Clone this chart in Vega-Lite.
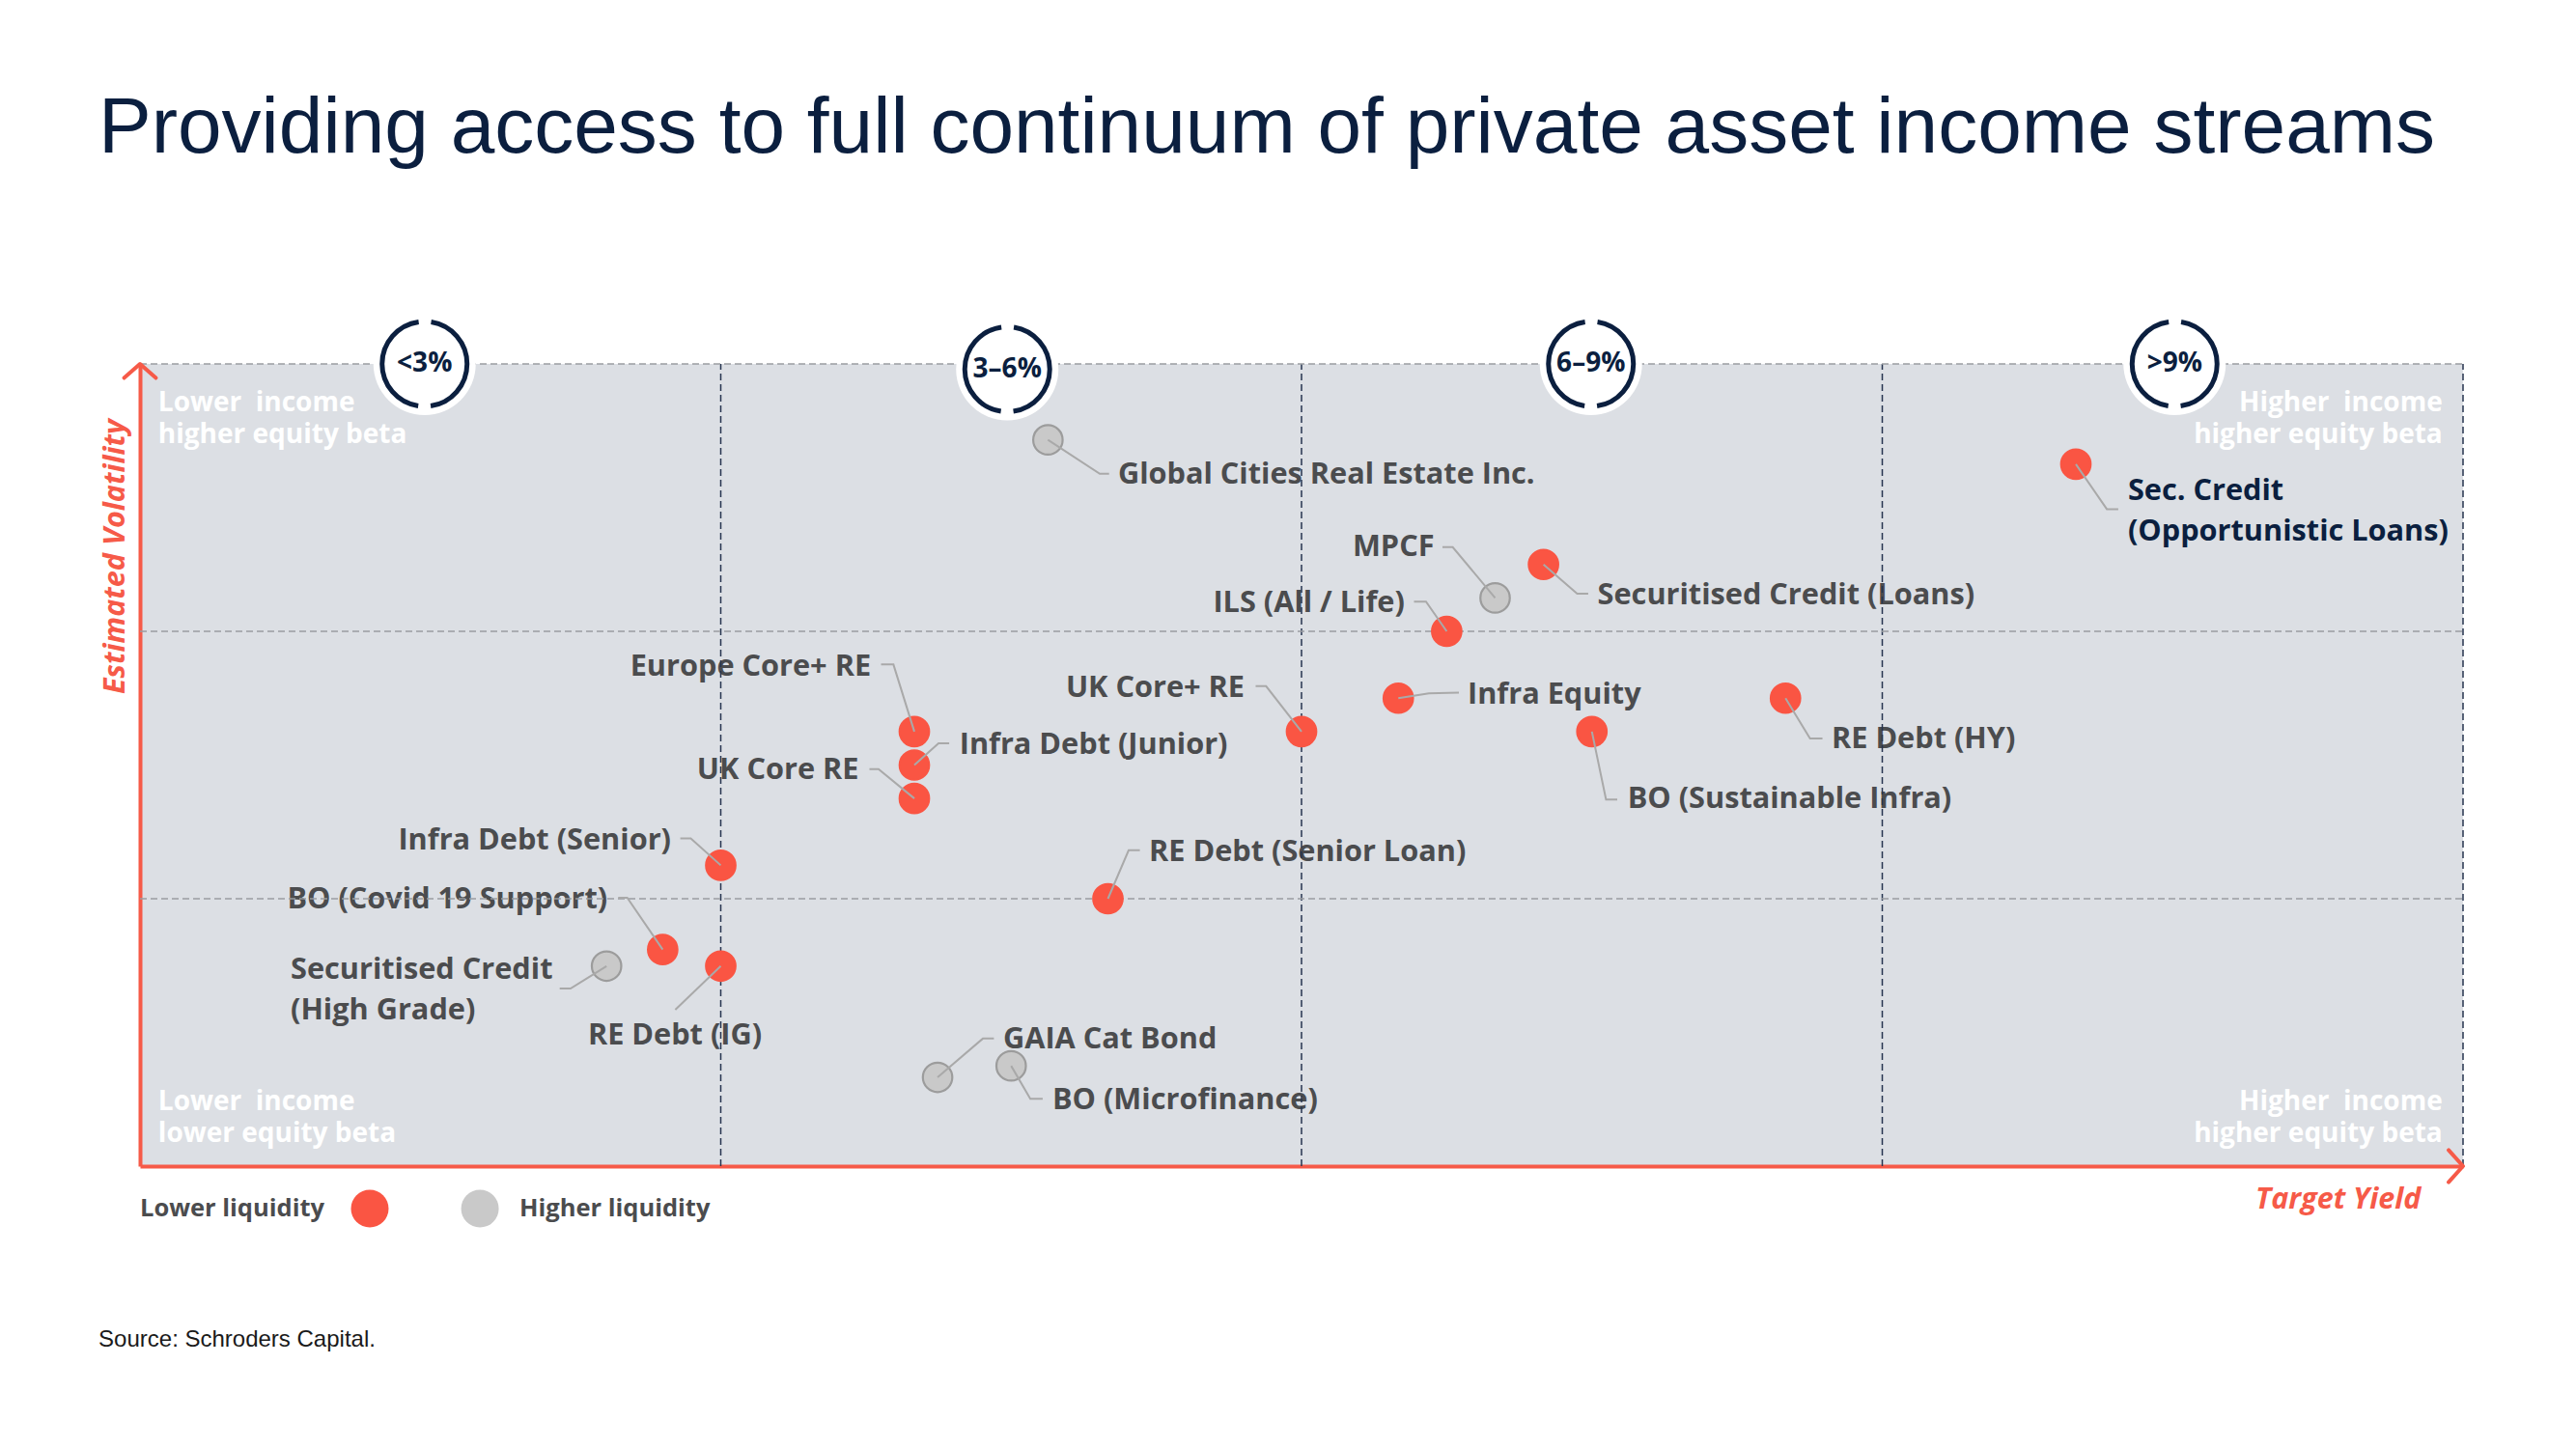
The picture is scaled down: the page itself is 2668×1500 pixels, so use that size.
{
  "$schema": "https://vega.github.io/schema/vega-lite/v6.json",
  "width": 2406,
  "height": 831,
  "autosize": {"type": "none"},
  "padding": {"left": 145, "top": 377, "right": 117, "bottom": 292},
  "background": "white",
  "title": {
    "text": "Providing access to full continuum of private asset income streams",
    "anchor": "start",
    "frame": "group",
    "font": "Liberation Sans",
    "fontSize": 82,
    "fontWeight": 400,
    "color": "#0b1f3f",
    "baseline": "alphabetic",
    "offset": 83,
    "dx": -43
  },
  "config": {
    "view": {"fill": "#dcdfe4", "stroke": null},
    "font": "Open Sans"
  },
  "datasets": {
    "points": [
      {"name": "Global Cities Real Estate Inc.", "liquidity": "Higher liquidity", "x": 4.69, "y": 2.716},
      {"name": "Sec. Credit (Opportunistic Loans)", "liquidity": "Lower liquidity", "x": 10.0, "y": 2.625},
      {"name": "Securitised Credit (Loans)", "liquidity": "Lower liquidity", "x": 7.25, "y": 2.25},
      {"name": "MPCF", "liquidity": "Higher liquidity", "x": 7.0, "y": 2.125},
      {"name": "ILS (All / Life)", "liquidity": "Lower liquidity", "x": 6.75, "y": 2.0},
      {"name": "Infra Equity", "liquidity": "Lower liquidity", "x": 6.5, "y": 1.75},
      {"name": "UK Core+ RE", "liquidity": "Lower liquidity", "x": 6.0, "y": 1.625},
      {"name": "BO (Sustainable Infra)", "liquidity": "Lower liquidity", "x": 7.5, "y": 1.625},
      {"name": "RE Debt (HY)", "liquidity": "Lower liquidity", "x": 8.5, "y": 1.75},
      {"name": "Europe Core+ RE", "liquidity": "Lower liquidity", "x": 4.0, "y": 1.625},
      {"name": "Infra Debt (Junior)", "liquidity": "Lower liquidity", "x": 4.0, "y": 1.5},
      {"name": "UK Core RE", "liquidity": "Lower liquidity", "x": 4.0, "y": 1.375},
      {"name": "Infra Debt (Senior)", "liquidity": "Lower liquidity", "x": 3.0, "y": 1.125},
      {"name": "RE Debt (Senior Loan)", "liquidity": "Lower liquidity", "x": 5.0, "y": 1.0},
      {"name": "BO (Covid 19 Support)", "liquidity": "Lower liquidity", "x": 2.7, "y": 0.81},
      {"name": "RE Debt (IG)", "liquidity": "Lower liquidity", "x": 3.0, "y": 0.748},
      {"name": "Securitised Credit (High Grade)", "liquidity": "Higher liquidity", "x": 2.41, "y": 0.748},
      {"name": "GAIA Cat Bond", "liquidity": "Higher liquidity", "x": 4.12, "y": 0.332},
      {"name": "BO (Microfinance)", "liquidity": "Higher liquidity", "x": 4.5, "y": 0.375}
    ],
    "labels": [
      {"label": "Global Cities Real Estate Inc.", "side": "right", "highlight": false, "x": 5.052, "y": 2.586},
      {"label": "Sec. Credit\n(Opportunistic Loans)", "side": "right", "highlight": true, "x": 10.269, "y": 2.522},
      {"label": "Securitised Credit (Loans)", "side": "right", "highlight": false, "x": 7.529, "y": 2.135},
      {"label": "MPCF", "side": "left", "highlight": false, "x": 6.686, "y": 2.314},
      {"label": "ILS (All / Life)", "side": "left", "highlight": false, "x": 6.533, "y": 2.105},
      {"label": "Infra Equity", "side": "right", "highlight": false, "x": 6.858, "y": 1.762},
      {"label": "UK Core+ RE", "side": "left", "highlight": false, "x": 5.706, "y": 1.786},
      {"label": "RE Debt (HY)", "side": "right", "highlight": false, "x": 8.738, "y": 1.596},
      {"label": "BO (Sustainable Infra)", "side": "right", "highlight": false, "x": 7.684, "y": 1.371},
      {"label": "Europe Core+ RE", "side": "left", "highlight": false, "x": 3.776, "y": 1.868},
      {"label": "Infra Debt (Junior)", "side": "right", "highlight": false, "x": 4.233, "y": 1.575},
      {"label": "UK Core RE", "side": "left", "highlight": false, "x": 3.713, "y": 1.479},
      {"label": "Infra Debt (Senior)", "side": "left", "highlight": false, "x": 2.743, "y": 1.218},
      {"label": "RE Debt (Senior Loan)", "side": "right", "highlight": false, "x": 5.212, "y": 1.174},
      {"label": "BO (Covid 19 Support)", "side": "left", "highlight": false, "x": 2.415, "y": 0.997},
      {"label": "Securitised Credit\n(High Grade)", "side": "right", "highlight": false, "x": 0.778, "y": 0.733},
      {"label": "RE Debt (IG)", "side": "below", "highlight": false, "x": 2.763, "y": 0.486},
      {"label": "GAIA Cat Bond", "side": "right", "highlight": false, "x": 4.459, "y": 0.474},
      {"label": "BO (Microfinance)", "side": "right", "highlight": false, "x": 4.713, "y": 0.245}
    ],
    "leaders": [
      {"name": "Global Cities", "seq": 1, "x": 4.69, "y": 2.716},
      {"name": "Global Cities", "seq": 2, "x": 4.958, "y": 2.589},
      {"name": "Global Cities", "seq": 3, "x": 5.006, "y": 2.589},
      {"name": "MPCF", "seq": 1, "x": 6.728, "y": 2.315},
      {"name": "MPCF", "seq": 2, "x": 6.781, "y": 2.315},
      {"name": "MPCF", "seq": 3, "x": 7.0, "y": 2.125},
      {"name": "Sec Loans", "seq": 1, "x": 7.25, "y": 2.25},
      {"name": "Sec Loans", "seq": 2, "x": 7.424, "y": 2.141},
      {"name": "Sec Loans", "seq": 3, "x": 7.481, "y": 2.141},
      {"name": "ILS", "seq": 1, "x": 6.581, "y": 2.111},
      {"name": "ILS", "seq": 2, "x": 6.643, "y": 2.111},
      {"name": "ILS", "seq": 3, "x": 6.75, "y": 2.0},
      {"name": "UK Core+", "seq": 1, "x": 5.763, "y": 1.795},
      {"name": "UK Core+", "seq": 2, "x": 5.817, "y": 1.795},
      {"name": "UK Core+", "seq": 3, "x": 6.0, "y": 1.625},
      {"name": "Infra Equity", "seq": 1, "x": 6.5, "y": 1.75},
      {"name": "Infra Equity", "seq": 2, "x": 6.658, "y": 1.768},
      {"name": "Infra Equity", "seq": 3, "x": 6.813, "y": 1.771},
      {"name": "Sec Opp", "seq": 1, "x": 10.0, "y": 2.625},
      {"name": "Sec Opp", "seq": 2, "x": 10.16, "y": 2.457},
      {"name": "Sec Opp", "seq": 3, "x": 10.219, "y": 2.457},
      {"name": "RE HY", "seq": 1, "x": 8.5, "y": 1.75},
      {"name": "RE HY", "seq": 2, "x": 8.627, "y": 1.599},
      {"name": "RE HY", "seq": 3, "x": 8.691, "y": 1.599},
      {"name": "Infra Junior", "seq": 1, "x": 4.0, "y": 1.5},
      {"name": "Infra Junior", "seq": 2, "x": 4.125, "y": 1.581},
      {"name": "Infra Junior", "seq": 3, "x": 4.18, "y": 1.581},
      {"name": "BO Sust", "seq": 1, "x": 7.5, "y": 1.625},
      {"name": "BO Sust", "seq": 2, "x": 7.573, "y": 1.371},
      {"name": "BO Sust", "seq": 3, "x": 7.631, "y": 1.371},
      {"name": "RE Senior", "seq": 1, "x": 5.0, "y": 1.0},
      {"name": "RE Senior", "seq": 2, "x": 5.107, "y": 1.181},
      {"name": "RE Senior", "seq": 3, "x": 5.165, "y": 1.181},
      {"name": "GAIA", "seq": 1, "x": 4.12, "y": 0.332},
      {"name": "GAIA", "seq": 2, "x": 4.354, "y": 0.477},
      {"name": "GAIA", "seq": 3, "x": 4.411, "y": 0.477},
      {"name": "BO Micro", "seq": 1, "x": 4.5, "y": 0.375},
      {"name": "BO Micro", "seq": 2, "x": 4.599, "y": 0.252},
      {"name": "BO Micro", "seq": 3, "x": 4.663, "y": 0.252},
      {"name": "UK Core", "seq": 1, "x": 3.768, "y": 1.485},
      {"name": "UK Core", "seq": 2, "x": 3.815, "y": 1.485},
      {"name": "UK Core", "seq": 3, "x": 4.0, "y": 1.375},
      {"name": "Infra Senior", "seq": 1, "x": 2.791, "y": 1.226},
      {"name": "Infra Senior", "seq": 2, "x": 2.845, "y": 1.226},
      {"name": "Infra Senior", "seq": 3, "x": 3.0, "y": 1.125},
      {"name": "BO Covid", "seq": 1, "x": 2.47, "y": 1.004},
      {"name": "BO Covid", "seq": 2, "x": 2.517, "y": 1.004},
      {"name": "BO Covid", "seq": 3, "x": 2.7, "y": 0.81},
      {"name": "Sec HG", "seq": 1, "x": 2.41, "y": 0.748},
      {"name": "Sec HG", "seq": 2, "x": 2.224, "y": 0.664},
      {"name": "Sec HG", "seq": 3, "x": 2.168, "y": 0.664},
      {"name": "RE IG", "seq": 1, "x": 3.0, "y": 0.748},
      {"name": "RE IG", "seq": 2, "x": 2.765, "y": 0.585},
      {"name": "Europe Core+", "seq": 1, "x": 3.828, "y": 1.876},
      {"name": "Europe Core+", "seq": 2, "x": 3.892, "y": 1.876},
      {"name": "Europe Core+", "seq": 3, "x": 4.0, "y": 1.625}
    ],
    "corners": [
      {"text": "Lower\u00a0 income\nhigher equity beta", "side": "left", "x": 0.094, "y": 2.852},
      {"text": "Higher\u00a0 income\nhigher equity beta", "side": "right", "x": 11.894, "y": 2.852},
      {"text": "Lower\u00a0 income\nlower equity beta", "side": "left", "x": 0.094, "y": 0.239},
      {"text": "Higher\u00a0 income\nhigher equity beta", "side": "right", "x": 11.894, "y": 0.239}
    ],
    "badges": [
      {"band": "<3%", "x": 1.47, "y": 3.0},
      {"band": "3–6%", "x": 4.48, "y": 2.98},
      {"band": "6–9%", "x": 7.495, "y": 3.0},
      {"band": ">9%", "x": 10.51, "y": 3.0}
    ],
    "vlines": [
      {"x": 3, "y": 0, "y2": 3},
      {"x": 6, "y": 0, "y2": 3},
      {"x": 9, "y": 0, "y2": 3},
      {"x": 12, "y": 0, "y2": 3}
    ],
    "hlines": [
      {"y": 1, "x": 0, "x2": 12},
      {"y": 2, "x": 0, "x2": 12},
      {"y": 3, "x": 0, "x2": 12}
    ],
    "legendDots": [
      {"liquidity": "Lower liquidity", "x": 1.187, "y": -0.159},
      {"liquidity": "Higher liquidity", "x": 1.756, "y": -0.159}
    ],
    "legendText": [
      {"text": "Lower liquidity", "x": 0.0, "y": -0.159},
      {"text": "Higher liquidity", "x": 1.96, "y": -0.159}
    ],
    "source": [{"text": "Source: Schroders Capital.", "x": -0.214, "y": -0.65}]
  },
  "encoding": {
    "x": {
      "field": "x", "type": "quantitative",
      "scale": {"domain": [0, 12], "nice": false, "zero": false},
      "axis": {
        "title": "Target Yield", "grid": false, "ticks": false, "labels": false,
        "domainColor": "#f65a48", "domainWidth": 4,
        "titleFont": "Open Sans", "titleFontSize": 30.5, "titleFontStyle": "italic", "titleFontWeight": 700, "titleColor": "#f65a48",
        "titleAlign": "right", "titleX": 2362, "titleY": 34, "titleBaseline": "middle"
      }
    },
    "y": {
      "field": "y", "type": "quantitative",
      "scale": {"domain": [0, 3], "nice": false, "zero": false},
      "axis": {
        "title": "Estimated Volatility", "grid": false, "ticks": false, "labels": false,
        "domainColor": "#f65a48", "domainWidth": 4,
        "titleFont": "Open Sans", "titleFontSize": 30.5, "titleFontStyle": "italic", "titleFontWeight": 700, "titleColor": "#f65a48",
        "titleAngle": 270, "titleAlign": "center", "titleX": -26, "titleY": 199, "titleBaseline": "middle"
      }
    }
  },
  "layer": [
    {
      "data": {"name": "corners"},
      "transform": [{"filter": "datum.side === 'left'"}],
      "mark": {"type": "text", "align": "left", "baseline": "middle", "lineBreak": "\n", "lineHeight": 33, "font": "Open Sans", "fontSize": 28, "fontWeight": 700, "color": "#ffffff"},
      "encoding": {"text": {"field": "text"}}
    },
    {
      "data": {"name": "corners"},
      "transform": [{"filter": "datum.side === 'right'"}],
      "mark": {"type": "text", "align": "right", "baseline": "middle", "lineBreak": "\n", "lineHeight": 33, "font": "Open Sans", "fontSize": 28, "fontWeight": 700, "color": "#ffffff"},
      "encoding": {"text": {"field": "text"}}
    },
    {
      "data": {"name": "labels"},
      "transform": [{"filter": "datum.side === 'right'"}],
      "mark": {"type": "text", "align": "left", "baseline": "middle", "lineBreak": "\n", "lineHeight": 42, "font": "Open Sans", "fontSize": 30.7, "fontWeight": 700},
      "encoding": {
        "text": {"field": "label"},
        "color": {"condition": {"test": "datum.highlight", "value": "#0b1f3f"}, "value": "#4b4c4e"}
      }
    },
    {
      "data": {"name": "labels"},
      "transform": [{"filter": "datum.side === 'left'"}],
      "mark": {"type": "text", "align": "right", "baseline": "middle", "lineBreak": "\n", "lineHeight": 42, "font": "Open Sans", "fontSize": 30.7, "fontWeight": 700, "color": "#4b4c4e"},
      "encoding": {"text": {"field": "label"}}
    },
    {
      "data": {"name": "labels"},
      "transform": [{"filter": "datum.side === 'below'"}],
      "mark": {"type": "text", "align": "center", "baseline": "middle", "font": "Open Sans", "fontSize": 30.7, "fontWeight": 700, "color": "#4b4c4e"},
      "encoding": {"text": {"field": "label"}}
    },
    {
      "data": {"name": "vlines"},
      "mark": {"type": "rule", "color": "#26344f", "strokeWidth": 1.5, "strokeDash": [7, 4]},
      "encoding": {"y2": {"field": "y2"}}
    },
    {
      "data": {"name": "hlines"},
      "mark": {"type": "rule", "color": "#9b9da1", "strokeWidth": 1.6, "strokeDash": [7, 4]},
      "encoding": {"x2": {"field": "x2"}}
    },
    {
      "data": {"name": "points"},
      "mark": {"type": "point", "shape": "circle", "filled": true, "opacity": 1, "size": 930, "strokeWidth": 2.2},
      "encoding": {
        "color": {"field": "liquidity", "type": "nominal", "scale": {"domain": ["Lower liquidity", "Higher liquidity"], "range": ["#fa5543", "#c9c9c9"]}, "legend": null},
        "stroke": {"field": "liquidity", "type": "nominal", "scale": {"domain": ["Lower liquidity", "Higher liquidity"], "range": ["#fa5543", "#9c9c9c"]}, "legend": null}
      }
    },
    {
      "data": {"name": "leaders"},
      "mark": {"type": "line", "color": "#a9a9a9", "strokeWidth": 2},
      "encoding": {
        "detail": {"field": "name"},
        "order": {"field": "seq"}
      }
    },
    {
      "data": {"values": [{"x": 0, "y": 3}]},
      "mark": {"type": "point", "shape": "M-1,0.88L0,0L1,0.88", "size": 1089, "filled": false, "stroke": "#f65a48", "strokeWidth": 4, "strokeJoin": "round", "strokeCap": "round", "opacity": 1},
      "encoding": {}
    },
    {
      "data": {"values": [{"x": 12, "y": 0}]},
      "mark": {"type": "point", "shape": "M-0.9,-1L0,0L-0.9,1", "size": 1102, "filled": false, "stroke": "#f65a48", "strokeWidth": 4, "strokeJoin": "round", "strokeCap": "round", "opacity": 1},
      "encoding": {}
    },
    {
      "data": {"name": "badges"},
      "mark": {"type": "point", "shape": "circle", "filled": true, "fill": "#ffffff", "opacity": 1, "size": 11236, "strokeWidth": 0},
      "encoding": {}
    },
    {
      "data": {"name": "badges"},
      "mark": {"type": "point", "shape": "circle", "filled": false, "stroke": "#0b1f3f", "strokeWidth": 5, "opacity": 1, "size": 7744, "strokeDash": [125.23, 13], "strokeDashOffset": 62.6},
      "encoding": {}
    },
    {
      "data": {"name": "badges"},
      "mark": {"type": "text", "align": "center", "baseline": "middle", "font": "Open Sans", "fontSize": 28, "fontWeight": 700, "color": "#0b1f3f"},
      "encoding": {"text": {"field": "band"}}
    },
    {
      "data": {"name": "legendDots"},
      "mark": {"type": "point", "shape": "circle", "filled": true, "opacity": 1, "size": 1521, "strokeWidth": 0},
      "encoding": {
        "color": {"field": "liquidity", "type": "nominal", "legend": null}
      }
    },
    {
      "data": {"name": "legendText"},
      "mark": {"type": "text", "align": "left", "baseline": "middle", "font": "Open Sans", "fontSize": 25.5, "fontWeight": 700, "color": "#4b4c4e"},
      "encoding": {"text": {"field": "text"}}
    },
    {
      "data": {"name": "source"},
      "mark": {"type": "text", "align": "left", "baseline": "middle", "font": "Liberation Sans", "fontSize": 24, "fontWeight": 400, "color": "#1a1a1a"},
      "encoding": {"text": {"field": "text"}}
    }
  ]
}
